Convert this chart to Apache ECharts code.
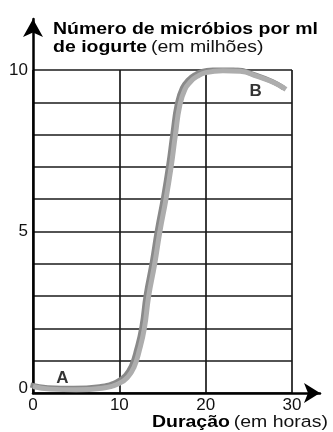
<!DOCTYPE html>
<html>
<head>
<meta charset="utf-8">
<script src="https://cdn.jsdelivr.net/npm/echarts@6/dist/echarts.min.js"></script>
<style>
  html, body { margin: 0; padding: 0; background: #fff; }
  #chart-ctn { width: 333px; height: 432px; }
</style>
</head>
<body>
<div id="chart-ctn"></div>
<script>
// duração (horas) e número de micróbios (milhões / ml)
var hours = [0, 2, 5, 8, 10, 11, 11.7, 12.3, 12.9, 13.4, 14.1, 14.7, 15.4, 16.0, 16.5, 17.0, 17.6, 18.3, 19, 20, 22, 24, 26, 28, 29.3];
var microbes = [0.2, 0.12, 0.1, 0.15, 0.3, 0.5, 0.8, 1.3, 2, 3, 4, 5, 6, 7, 8, 8.9, 9.4, 9.65, 9.8, 9.92, 9.98, 9.96, 9.8, 9.6, 9.4];
var yTickLabels = [0, 5, 10];
var xTickLabels = [0, 10, 20, 30];
var pointNames = ['A', 'B'];
var pointHours = [3.4, 25.8];
var pointValues = [0.45, 9.35];

var font = 'Liberation Sans, Arial, sans-serif';
var curveData = hours.map(function (h, i) { return [h, microbes[i]]; });
var markData = pointNames.map(function (n, i) { return [pointHours[i], pointValues[i], n]; });

var chart = echarts.init(document.getElementById('chart-ctn'));

var option = {
  animation: false,
  backgroundColor: '#fff',
  grid: [
    {left: 33, right: 41, top: 70, bottom: 39},
    {left: 33, right: 13, top: 19, bottom: 39}
  ],
  xAxis: [
    {
      type: 'value', gridIndex: 0, min: 0, max: 30, interval: 10,
      axisLine: {show: false},
      axisTick: {show: false},
      splitLine: {show: true, lineStyle: {color: '#1a1a1a', width: 1.7}},
      axisLabel: {
        margin: 4, color: '#111', fontFamily: font, fontSize: 17,
        formatter: function (v) { return xTickLabels.indexOf(v) >= 0 ? String(v) : ''; }
      }
    },
    {
      type: 'value', gridIndex: 1, min: 0, max: 33.26,
      axisLine: {show: true, symbol: ['none', 'arrow'], symbolSize: [15, 16],
        lineStyle: {color: '#000', width: 2.5}},
      axisTick: {show: false}, axisLabel: {show: false}, splitLine: {show: false}
    }
  ],
  yAxis: [
    {
      type: 'value', gridIndex: 0, min: 0, max: 10, interval: 1,
      axisLine: {show: false},
      axisTick: {show: false},
      splitLine: {show: true, lineStyle: {color: '#1a1a1a', width: 1.7}},
      axisLabel: {
        margin: 5, color: '#111', fontFamily: font, fontSize: 17,
        formatter: function (v) {
          if (yTickLabels.indexOf(v) < 0) return '';
          return v === 0 ? '{z|0}' : String(v);
        },
        rich: {z: {fontFamily: font, fontSize: 17, color: '#111', padding: [0, 0, 9, 0]}}
      }
    },
    {
      type: 'value', gridIndex: 1, min: 0, max: 11.58,
      axisLine: {show: true, symbol: ['none', 'arrow'], symbolSize: [15, 18],
        lineStyle: {color: '#000', width: 2.5}},
      axisTick: {show: false}, axisLabel: {show: false}, splitLine: {show: false}
    }
  ],
  graphic: [
    {
      type: 'text', left: 53, top: 21, scaleX: 1.16,
      style: {
        text: '{b|Número de micróbios por ml}\n{b|de iogurte} {n|(em milhões)}',
        rich: {
          b: {fontFamily: font, fontSize: 16.8, fontWeight: 'bold', fill: '#000', lineHeight: 18},
          n: {fontFamily: font, fontSize: 16.8, fill: '#111', lineHeight: 18}
        }
      }
    },
    {
      type: 'text', left: 152, top: 414, scaleX: 1.16,
      style: {
        text: '{b|Duração} {n|(em horas)}',
        rich: {
          b: {fontFamily: font, fontSize: 16.8, fontWeight: 'bold', fill: '#000'},
          n: {fontFamily: font, fontSize: 16.8, fill: '#111'}
        }
      }
    }
  ],
  series: [
    {
      type: 'line', xAxisIndex: 0, yAxisIndex: 0,
      data: curveData, smooth: 0.5, showSymbol: false, symbol: 'none',
      lineStyle: {color: '#adadad', width: 5, shadowColor: '#898989', shadowBlur: 0,
        shadowOffsetX: -2.5, shadowOffsetY: -1.5},
      z: 5
    },
    {
      type: 'scatter', xAxisIndex: 0, yAxisIndex: 0,
      data: markData, symbolSize: 0,
      label: {
        show: true, position: 'inside', color: '#000',
        fontFamily: font, fontSize: 17, fontWeight: 'bold',
        formatter: function (p) { return p.data[2]; }
      },
      z: 6
    }
  ]
};

chart.setOption(option);
</script>
</body>
</html>
